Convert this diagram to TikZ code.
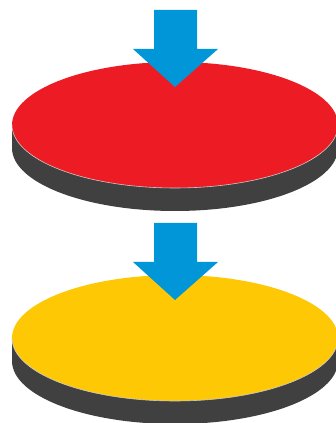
\documentclass[tikz,border=0pt]{standalone}
\usepackage{xcolor}
\usepackage{tikz}
\definecolor{discred}{HTML}{ED1C24}
\definecolor{discyellow}{HTML}{FFC805}
\definecolor{discgray}{HTML}{404040}
\definecolor{arrowblue}{HTML}{0096D8}

\begin{document}
\begin{tikzpicture}[
    x=0.03cm,y=0.03cm,
    side/.style={fill=discgray},
    rim/.style={draw=gray!40,line width=0.5pt},
    pusharrow/.style={fill=arrowblue}
]
\useasboundingbox (0,0) rectangle (335,423);
% upper disc
\fill[side] (12,298) -- (12,275)
  arc[start angle=180,end angle=360,x radius=163,y radius=63] -- (338,298) -- cycle;
\fill[discred] (175,298) ellipse[x radius=163,y radius=63];
\draw[rim] (12,298) arc[start angle=180,end angle=360,x radius=163,y radius=63];
\fill[pusharrow] (154,413) -- (197,413) -- (197,374) -- (218,374)
  -- (175,336) -- (133,374) -- (154,374) -- cycle;
% lower disc
\fill[side] (12,85) -- (12,62)
  arc[start angle=180,end angle=360,x radius=163,y radius=63] -- (338,85) -- cycle;
\fill[discyellow] (175,85) ellipse[x radius=163,y radius=63];
\draw[rim] (12,85) arc[start angle=180,end angle=360,x radius=163,y radius=63];
\fill[pusharrow] (154,200) -- (197,200) -- (197,161) -- (218,161)
  -- (175,123) -- (133,161) -- (154,161) -- cycle;
\end{tikzpicture}
\end{document}
